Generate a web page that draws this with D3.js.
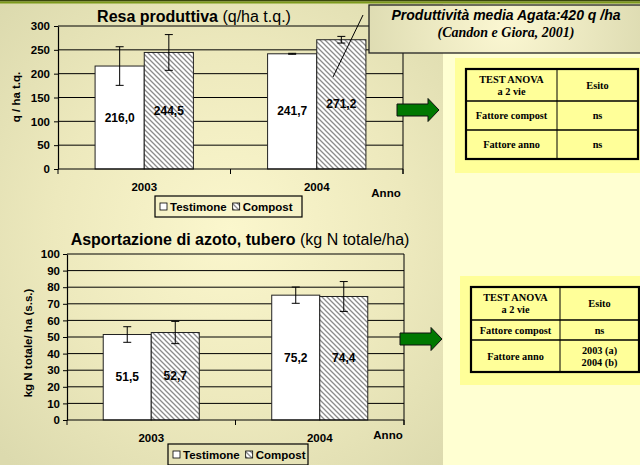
<!DOCTYPE html>
<html><head><meta charset="utf-8">
<script src="https://cdn.jsdelivr.net/npm/d3@7"></script>
<style>
html,body{margin:0;padding:0;background:#fff;}
svg{display:block;font-family:"Liberation Sans",Arial,sans-serif;}
</style></head>
<body>
<script>
// ---------- DATA ----------
const categories = ["2003", "2004"];
const seriesNames = ["Testimone", "Compost"];
// Resa produttiva (q/ha t.q.)
const resaTestimone = [216.0, 241.7];
const resaCompost = [244.5, 271.2];
const resaErrTestimone = [40.5, 1.0];
const resaErrCompost = [37.5, 7.0];
const resaTicks = [0, 50, 100, 150, 200, 250, 300];
// Asportazione di azoto (kg N totale/ha)
const azotoTestimone = [51.5, 75.2];
const azotoCompost = [52.7, 74.4];
const azotoErrTestimone = [4.7, 4.9];
const azotoErrCompost = [6.7, 9.0];
const azotoTicks = [0, 10, 20, 30, 40, 50, 60, 70, 80, 90, 100];
// ANOVA tables
const anovaHeader = [["TEST ANOVA", "a 2 vie"], ["Esito"]];
const anova1Rows = [[["Fattore compost"], ["ns"]], [["Fattore anno"], ["ns"]]];
const anova2Rows = [[["Fattore compost"], ["ns"]], [["Fattore anno"], ["2003 (a)", "2004 (b)"]]];
const calloutLines = ["Produttività media Agata:420 q /ha", "(Candon e Giora, 2001)"];

// ---------- SVG ----------
const W = 640, H = 465;
const svg = d3.select("body").append("svg").attr("width", W).attr("height", H);
const defs = svg.append("defs");

const bg = defs.append("radialGradient").attr("id", "bgGrad")
  .attr("gradientUnits", "userSpaceOnUse").attr("cx", 230).attr("cy", 230).attr("r", 320);
bg.append("stop").attr("offset", "0%").attr("stop-color", "#fbf7cd");
bg.append("stop").attr("offset", "55%").attr("stop-color", "#ede9bd");
bg.append("stop").attr("offset", "100%").attr("stop-color", "#dcdaae");

const cg = defs.append("radialGradient").attr("id", "calloutGrad")
  .attr("gradientUnits", "userSpaceOnUse").attr("cx", 505).attr("cy", 28).attr("r", 150);
cg.append("stop").attr("offset", "0%").attr("stop-color", "#fbf7d2");
cg.append("stop").attr("offset", "100%").attr("stop-color", "#dcdab0");

const pat = defs.append("pattern").attr("id", "hatch").attr("patternUnits", "userSpaceOnUse")
  .attr("width", 5).attr("height", 5);
pat.append("rect").attr("width", 5).attr("height", 5).attr("fill", "#fff");
pat.append("path").attr("d", "M-1,-1 L6,6 M-1,4 L1,6 M4,-1 L6,1")
  .attr("stroke", "#8c8c8c").attr("stroke-width", 1.3);

// backgrounds
svg.append("rect").attr("x", 0).attr("y", 0).attr("width", W).attr("height", H).attr("fill", "url(#bgGrad)");
svg.append("rect").attr("x", 443).attr("y", 4).attr("width", W - 443).attr("height", H - 4).attr("fill", "#ffffd2");
svg.append("rect").attr("x", 0).attr("y", 0).attr("width", W).attr("height", 1.5).attr("fill", "#3b470c");
svg.append("rect").attr("x", 0).attr("y", 1.5).attr("width", W).attr("height", 2).attr("fill", "#7c9a1c");

// ---------- CHART FUNCTION ----------
function drawChart(o) {
  const g = svg.append("g");
  const y = d3.scaleLinear().domain([0, d3.max(o.ticks)]).range([o.y0, o.y1]);
  const x0 = d3.scaleBand().domain(categories).range([o.x0, o.x1]).paddingInner(0.43).paddingOuter(0.215);
  const x1 = d3.scaleBand().domain(seriesNames).range([0, x0.bandwidth()]);

  // gridlines
  g.append("g").selectAll("line").data(o.ticks.filter(t => t > 0)).join("line")
    .attr("x1", o.x0).attr("x2", o.x1).attr("y1", d => y(d)).attr("y2", d => y(d))
    .attr("stroke", "#000").attr("stroke-width", 1);
  // right border
  g.append("line").attr("x1", o.x1).attr("x2", o.x1).attr("y1", y(d3.max(o.ticks))).attr("y2", o.y0 + 5)
    .attr("stroke", "#000");

  // y axis
  const ya = d3.axisLeft(y).tickValues(o.ticks).tickSize(4).tickSizeOuter(0).tickPadding(o.tickPad);
  const yg = g.append("g").attr("transform", `translate(${o.x0},0)`).call(ya);
  yg.select(".domain").attr("stroke", "#000").attr("stroke-width", 1.2);
  yg.selectAll(".tick line").attr("stroke", "#000");
  yg.selectAll("text").attr("font-size", 11.5).attr("font-weight", "bold").attr("fill", "#000")
    .attr("font-family", "Liberation Sans, Arial, sans-serif");

  // bars
  const series = [o.t, o.c];
  const errs = [o.et, o.ec];
  const fills = ["#fff", "url(#hatch)"];
  const rows = [];
  categories.forEach((cat, i) => seriesNames.forEach((s, j) => rows.push({cat, s, j, v: series[j][i], e: errs[j][i]})));
  g.append("g").selectAll("rect").data(rows).join("rect")
    .attr("x", d => x0(d.cat) + x1(d.s)).attr("y", d => y(d.v))
    .attr("width", x1.bandwidth()).attr("height", d => y(0) - y(d.v))
    .attr("fill", d => fills[d.j]).attr("stroke", "#222").attr("stroke-width", 1);

  // x axis
  g.append("line").attr("x1", o.x0).attr("x2", o.x1).attr("y1", y(0)).attr("y2", y(0)).attr("stroke", "#000").attr("stroke-width", 1.2);
  const xt = [o.x0, (o.x0 + o.x1) / 2, o.x1];
  g.append("g").selectAll("line").data(xt).join("line")
    .attr("x1", d => d).attr("x2", d => d).attr("y1", y(0)).attr("y2", y(0) + 5).attr("stroke", "#000");

  // error bars
  const eb = g.append("g").selectAll("g").data(rows).join("g");
  const cx = d => x0(d.cat) + x1(d.s) + x1.bandwidth() / 2;
  eb.append("line").attr("x1", cx).attr("x2", cx).attr("y1", d => y(d.v + d.e)).attr("y2", d => y(d.v - d.e)).attr("stroke", "#000");
  eb.append("line").attr("x1", d => cx(d) - 4).attr("x2", d => cx(d) + 4).attr("y1", d => y(d.v + d.e)).attr("y2", d => y(d.v + d.e)).attr("stroke", "#000");
  eb.append("line").attr("x1", d => cx(d) - 4).attr("x2", d => cx(d) + 4).attr("y1", d => y(d.v - d.e)).attr("y2", d => y(d.v - d.e)).attr("stroke", "#000");

  // value labels
  g.append("g").selectAll("text").data(rows).join("text")
    .attr("x", cx).attr("y", d => (y(0) + y(d.v)) / 2 + 4)
    .attr("text-anchor", "middle").attr("font-size", 12).attr("font-weight", "bold")
    .text(d => d3.format(".1f")(d.v).replace(".", ","));

  // category labels
  g.append("g").selectAll("text").data(categories).join("text")
    .attr("x", d => x0(d) + x0.bandwidth() / 2 + o.catDx).attr("y", o.catY)
    .attr("text-anchor", "middle").attr("font-size", 11.5).attr("font-weight", "bold").text(d => d);
  g.append("text").attr("x", o.annoX).attr("y", o.annoY).attr("text-anchor", "middle")
    .attr("font-size", 11.5).attr("font-weight", "bold").text("Anno");

  // title
  const tt = g.append("text").attr("x", o.titleX).attr("y", o.titleY).attr("text-anchor", "middle").attr("font-size", 16);
  tt.append("tspan").attr("font-weight", "bold").text(o.titleBold);
  tt.append("tspan").text(" " + o.titleRest);

  // y title
  g.append("text").attr("transform", `translate(${o.ytX},${o.ytY}) rotate(-90)`).attr("text-anchor", "middle")
    .attr("font-size", 11.5).attr("font-weight", "bold").text(o.yTitle);

  // legend
  const lg = g.append("g").attr("transform", `translate(${o.legX},${o.legY})`);
  lg.append("rect").attr("width", o.legW).attr("height", 21).attr("fill", "none").attr("stroke", "#000").attr("stroke-width", 1.2);
  let lx = 5;
  seriesNames.forEach((s, j) => {
    lg.append("rect").attr("x", lx).attr("y", 7).attr("width", 7).attr("height", 7)
      .attr("fill", fills[j]).attr("stroke", "#000").attr("stroke-width", 0.8);
    const t = lg.append("text").attr("x", lx + 10).attr("y", 15).attr("font-size", 11.5).attr("font-weight", "bold").text(s);
    lx += 10 + t.node().getComputedTextLength() + 6;
  });
}

drawChart({
  t: resaTestimone, c: resaCompost, et: resaErrTestimone, ec: resaErrCompost, ticks: resaTicks,
  x0: 58, x1: 403, y0: 169, y1: 26, tickPad: 4, catDx: 0, catY: 191, annoX: 386, annoY: 197,
  titleX: 194, titleY: 22, titleBold: "Resa produttiva", titleRest: "(q/ha t.q.)",
  yTitle: "q / ha t.q.", ytX: 20, ytY: 97, legX: 155, legY: 196, legW: 147
});
drawChart({
  t: azotoTestimone, c: azotoCompost, et: azotoErrTestimone, ec: azotoErrCompost, ticks: azotoTicks,
  x0: 67, x1: 404, y0: 420, y1: 254, tickPad: 3, catDx: 0, catY: 442, annoX: 388, annoY: 439,
  titleX: 240, titleY: 245, titleBold: "Asportazione di azoto, tubero", titleRest: "(kg N totale/ha)",
  yTitle: "kg N totale/ ha (s.s.)", ytX: 32, ytY: 343, legX: 168, legY: 444, legW: 140
});

// callout
svg.append("line").attr("x1", 363).attr("y1", 15).attr("x2", 333).attr("y2", 77).attr("stroke", "#000");
svg.append("rect").attr("x", 369).attr("y", 5).attr("width", 280).attr("height", 48)
  .attr("fill", "url(#calloutGrad)").attr("stroke", "#222").attr("stroke-width", 1.3);
svg.append("text").attr("x", 506).attr("y", 20).attr("text-anchor", "middle")
  .attr("font-size", 14).attr("font-weight", "bold").attr("font-style", "italic").text(calloutLines[0]);
svg.append("text").attr("x", 506).attr("y", 37).attr("text-anchor", "middle")
  .attr("font-family", "Liberation Serif, Times New Roman, serif")
  .attr("font-size", 14).attr("font-weight", "bold").attr("font-style", "italic").text(calloutLines[1]);

// arrows
function arrow(x, yc) {
  const p = d3.path();
  p.moveTo(x, yc - 6); p.lineTo(x + 31, yc - 6); p.lineTo(x + 31, yc - 11.5); p.lineTo(x + 42, yc);
  p.lineTo(x + 31, yc + 11.5); p.lineTo(x + 31, yc + 6); p.lineTo(x, yc + 6); p.closePath();
  svg.append("path").attr("d", p.toString()).attr("fill", "#007800").attr("stroke", "#111").attr("stroke-width", 1);
}
arrow(397, 110);
arrow(400, 339);

// tables
function table(o, rows) {
  svg.append("rect").attr("x", o.bx).attr("y", o.by).attr("width", o.bw).attr("height", o.bh).attr("fill", "#ffff99");
  const g = svg.append("g").attr("font-family", "Liberation Serif, Times New Roman, serif").attr("font-weight", "bold").attr("font-size", 10.3);
  const all = [anovaHeader].concat(rows);
  let yy = o.ty;
  all.forEach((r, i) => {
    const h = o.rh[i];
    [[o.tx, o.cx], [o.cx, o.tx2]].forEach((c, k) => {
      const lines = r[k];
      const mid = (c[0] + c[1]) / 2;
      lines.forEach((ln, li) => {
        g.append("text").attr("x", mid).attr("y", yy + h / 2 + 3.5 + (li - (lines.length - 1) / 2) * 12)
          .attr("text-anchor", "middle").text(ln);
      });
    });
    if (i > 0) g.append("line").attr("x1", o.tx).attr("x2", o.tx2).attr("y1", yy).attr("y2", yy).attr("stroke", "#000").attr("stroke-width", 1.3);
    yy += h;
  });
  g.append("line").attr("x1", o.cx).attr("x2", o.cx).attr("y1", o.ty).attr("y2", yy).attr("stroke", "#000").attr("stroke-width", 1);
  g.append("rect").attr("x", o.tx).attr("y", o.ty).attr("width", o.tx2 - o.tx).attr("height", yy - o.ty)
    .attr("fill", "none").attr("stroke", "#000").attr("stroke-width", 2.2);
}
table({bx: 455, by: 58, bw: 185, bh: 115, tx: 466, tx2: 638, cx: 557, ty: 69, rh: [32, 29, 29]}, anova1Rows);
table({bx: 460, by: 276, bw: 180, bh: 109, tx: 471, tx2: 639, cx: 560, ty: 287, rh: [33, 20, 32]}, anova2Rows);
</script>
</body></html>
